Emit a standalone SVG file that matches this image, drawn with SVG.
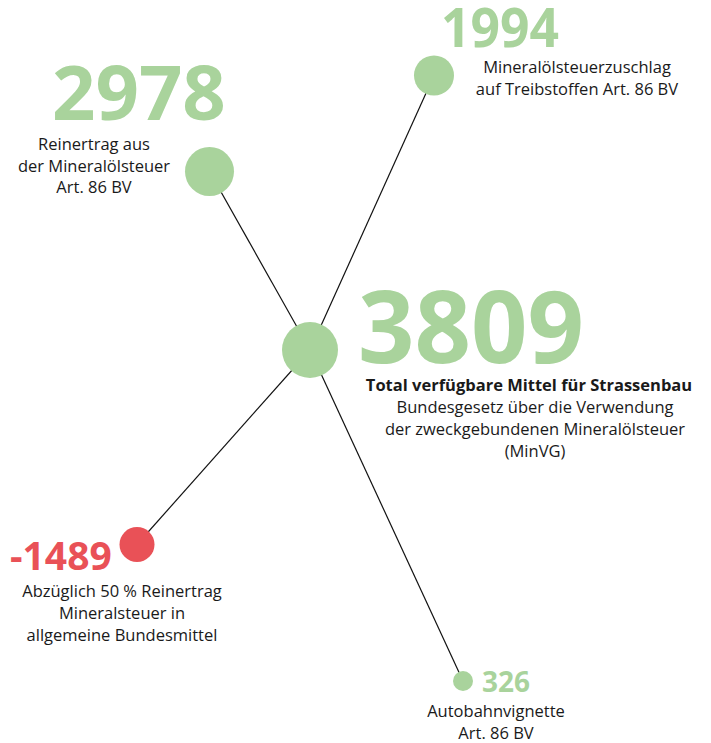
<svg xmlns="http://www.w3.org/2000/svg" width="711" height="743" viewBox="0 0 711 743">
<style>
.bg{fill:#ffffff}
.g{fill:#a9d39c}
.r{fill:#e95157}
.num{font-family:"Open Sans","Noto Sans",sans-serif;font-weight:700}
.ng{fill:#a9d39c}
.nr{fill:#e95157}
.lbl{font-family:"Open Sans","Noto Sans",sans-serif;font-size:16.5px;fill:#1a1a1a;text-anchor:middle}
.b{font-weight:700}
.conn line{stroke:#111111;stroke-width:1.2}
</style>
<rect class="bg" x="0" y="0" width="711" height="743"/>
<g id="connectors" class="conn">
<line x1="209.5" y1="171.5" x2="310" y2="350"/>
<line x1="434" y1="75.5" x2="310" y2="350"/>
<line x1="137" y1="544.5" x2="310" y2="350"/>
<line x1="463" y1="681" x2="310" y2="350"/>
</g>
<g id="node-2978">
<circle class="g" cx="209.5" cy="171.5" r="24.5"/>
<text class="num ng" x="52" y="120" font-size="76">2978</text>
<text class="lbl" x="94" y="150">Reinertrag aus</text>
<text class="lbl" x="94" y="171.5">der Mineralölsteuer</text>
<text class="lbl" x="94" y="193">Art. 86 BV</text>
</g>
<g id="node-1994">
<circle class="g" cx="434" cy="75.5" r="20"/>
<text class="num ng" x="441" y="47" font-size="54" textLength="118" lengthAdjust="spacingAndGlyphs">1994</text>
<text class="lbl" x="577" y="73">Mineralölsteuerzuschlag</text>
<text class="lbl" x="577" y="95">auf Treibstoffen Art. 86 BV</text>
</g>
<g id="node-3809">
<circle class="g" cx="310" cy="350" r="28"/>
<text class="num ng" x="358" y="363" font-size="100" textLength="226" lengthAdjust="spacingAndGlyphs">3809</text>
<text class="lbl b" x="529" y="391">Total verfügbare Mittel für Strassenbau</text>
<text class="lbl" x="535" y="413">Bundesgesetz über die Verwendung</text>
<text class="lbl" x="535" y="435">der zweckgebundenen Mineralölsteuer</text>
<text class="lbl" x="535" y="456.5">(MinVG)</text>
</g>
<g id="node-1489">
<circle class="r" cx="137" cy="544.5" r="17.5"/>
<text class="num nr" x="10" y="570" font-size="39">-1489</text>
<text class="lbl" x="122" y="597">Abzüglich 50 % Reinertrag</text>
<text class="lbl" x="122" y="619">Mineralsteuer in</text>
<text class="lbl" x="122" y="641">allgemeine Bundesmittel</text>
</g>
<g id="node-326">
<circle class="g" cx="463" cy="681" r="10"/>
<text class="num ng" x="482" y="692" font-size="28">326</text>
<text class="lbl" x="496" y="717">Autobahnvignette</text>
<text class="lbl" x="496" y="739">Art. 86 BV</text>
</g>
</svg>
